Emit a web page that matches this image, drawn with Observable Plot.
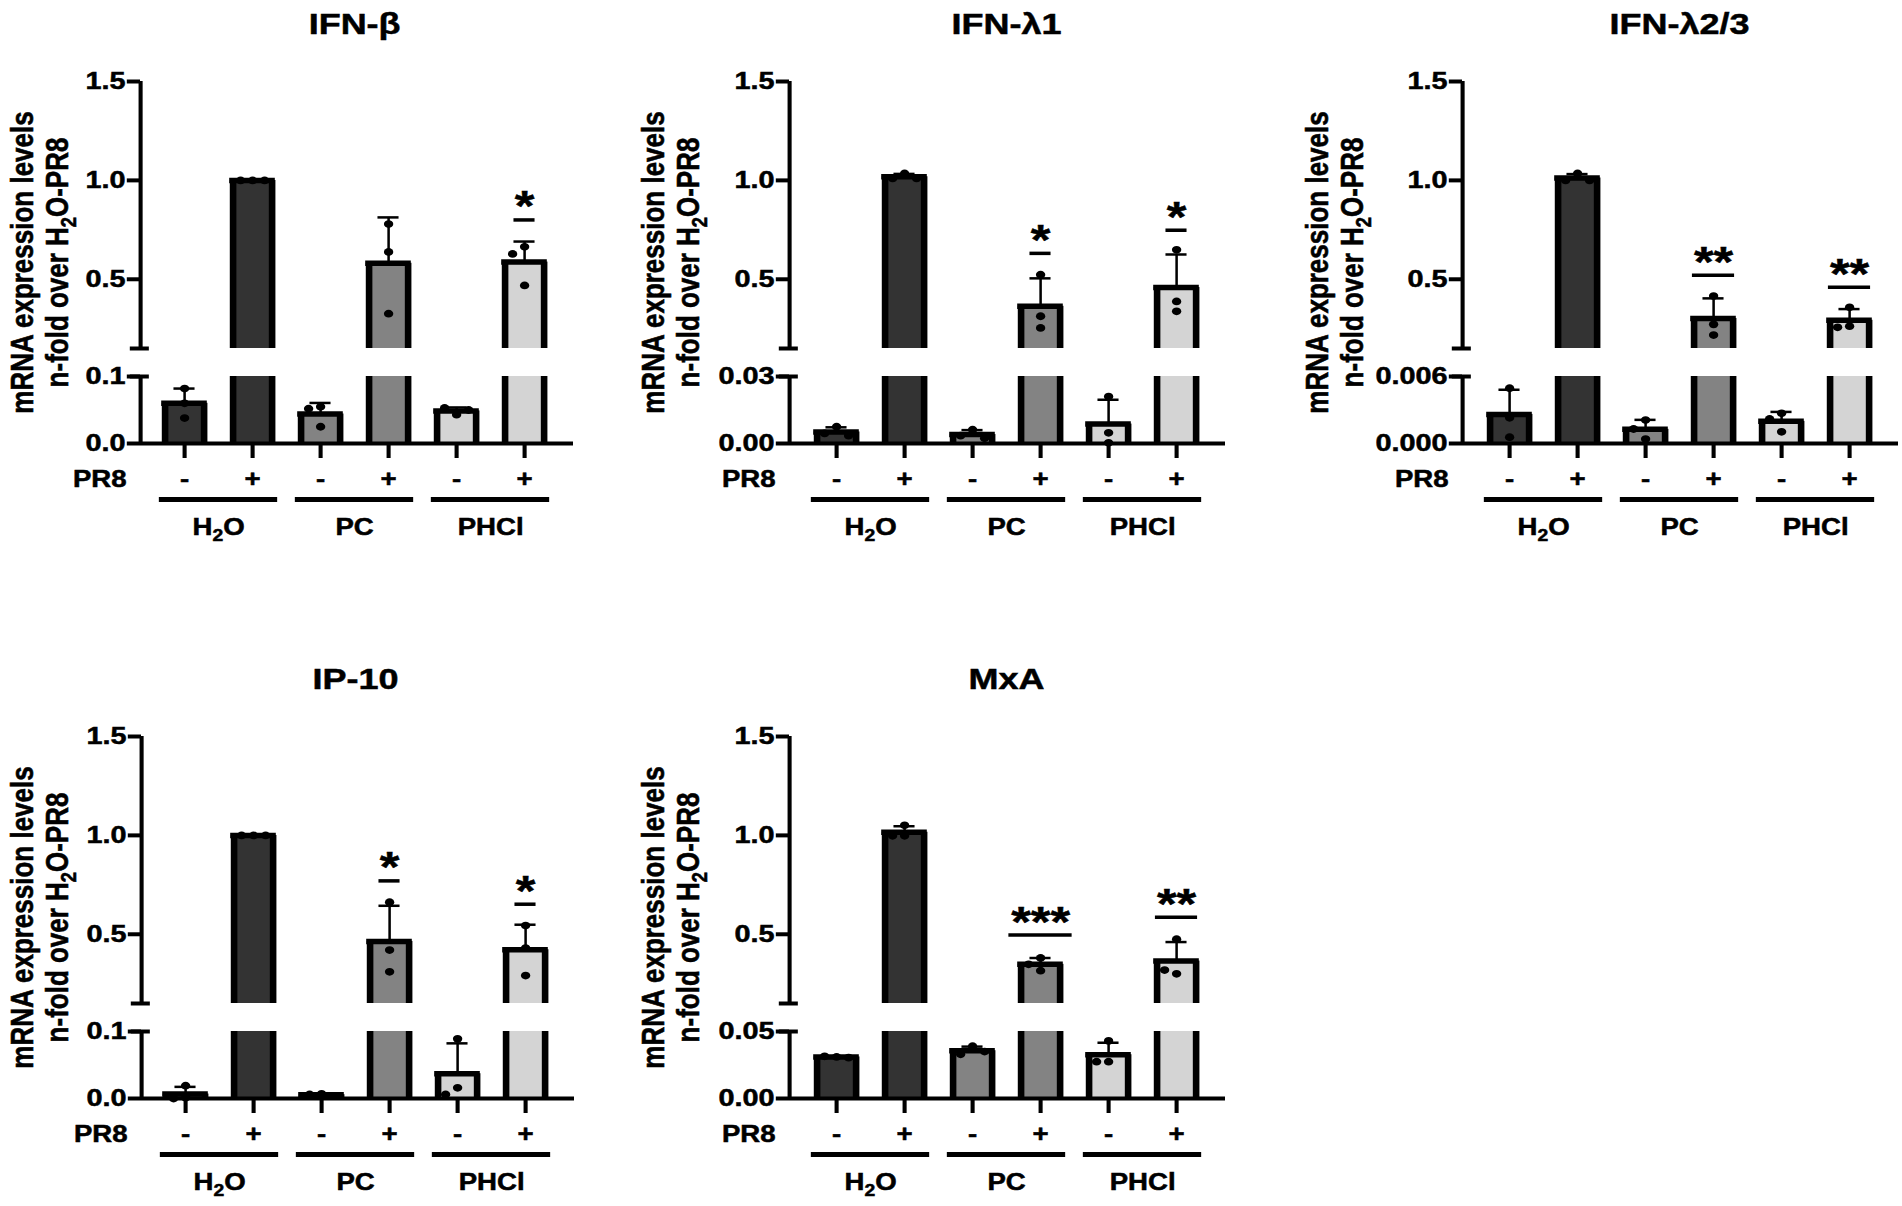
<!DOCTYPE html>
<html><head><meta charset="utf-8">
<script src="https://cdn.jsdelivr.net/npm/d3@7"></script>
<script src="https://cdn.jsdelivr.net/npm/@observablehq/plot@0.6"></script>
<style>
html,body{margin:0;padding:0;background:#fff;}
#root{position:relative;width:1902px;height:1206px;background:#fff;overflow:hidden;}
.panel{position:absolute;}
.panel svg{display:block;}
.panel svg text{stroke:#000;stroke-width:0.5px;}
</style></head><body><div id="root"></div>
<script>
// ---------------- data ----------------
const panelTitles = ["IFN-β", "IFN-λ1", "IFN-λ2/3", "IP-10", "MxA"];
const groups = ["H₂O", "PC", "PHCl"];
const pr8Labels = ["-", "+"];
const groupColors = ["#333333", "#838383", "#d4d4d4"];
const yTitle = "mRNA expression levels\nn-fold over H₂O-PR8";
const lowerMax = [0.1, 0.03, 0.006, 0.1, 0.05];
const lowerTickLabels = [["0.0", "0.1"], ["0.00", "0.03"], ["0.000", "0.006"], ["0.0", "0.1"], ["0.00", "0.05"]];
const upperTicks = [0.5, 1.0, 1.5];
const upperTickLabels = ["0.5", "1.0", "1.5"];
const breakStart = 0.15;

// replicates, per bar: H2O-, H2O+, PC-, PC+, PHCl-, PHCl+
const ifnB = [[0.082, 0.060, 0.038], [1.0, 1.0, 1.0], [0.055, 0.052, 0.025], [0.779, 0.638, 0.326], [0.043, 0.053, 0.050], [0.664, 0.628, 0.469]];
const ifnL1 = [[0.0075, 0.0045, 0.0035], [1.035, 1.01, 1.01], [0.0062, 0.0035, 0.0023], [0.523, 0.313, 0.254], [0.021, 0.0048, 0.0003], [0.649, 0.388, 0.338]];
const ifnL23 = [[0.00495, 0.0023, 0.00057], [1.035, 1.0, 1.0], [0.0021, 0.0013, 0.0004], [0.415, 0.272, 0.218], [0.0027, 0.0022, 0.00105], [0.358, 0.263, 0.257]];
const ip10 = [[0.019, 0.001, 0.0], [1.0, 1.0, 1.0], [0.007, 0.006, 0.004], [0.662, 0.42, 0.31], [0.089, 0.016, 0.006], [0.544, 0.43, 0.291]];
const mxa = [[0.031, 0.0315, 0.0305], [1.051, 0.998, 0.998], [0.039, 0.033, 0.035], [0.38, 0.316, 0.348], [0.043, 0.0275, 0.0275], [0.475, 0.30, 0.319]];
const replicates = [ifnB, ifnL1, ifnL23, ip10, mxa];

// significance: bar index, stars, value of the line
const sigB = [{bar: 5, stars: "*", at: 0.80}];
const sigL1 = [{bar: 3, stars: "*", at: 0.631}, {bar: 5, stars: "*", at: 0.748}];
const sigL23 = [{bar: 3, stars: "**", at: 0.52}, {bar: 5, stars: "**", at: 0.46}];
const sigIP = [{bar: 3, stars: "*", at: 0.77}, {bar: 5, stars: "*", at: 0.652}];
const sigMx = [{bar: 3, stars: "***", at: 0.496}, {bar: 5, stars: "**", at: 0.586}];
const significance = [sigB, sigL1, sigL23, sigIP, sigMx];

// ---------------- layout ----------------
const SX = 1.2;             // horizontal stretch of the original figure
const FONT = "'Liberation Sans', Arial, Helvetica, sans-serif";
const W = 634, H = 551;
const STEP = 68;            // px between bar centres
const yTop = 81, yBreak = 348, yLow = 376, yZero = 443;
const layout = [
  {left: 0,    top: 0,   axis: 140, bar0: 184, ytitle: 39},
  {left: 634,  top: 0,   axis: 155, bar0: 202, ytitle: 36},
  {left: 1268, top: 0,   axis: 194, bar0: 241, ytitle: 66},
  {left: 0,    top: 655, axis: 141, bar0: 185, ytitle: 39},
  {left: 634,  top: 655, axis: 155, bar0: 202, ytitle: 36}
];

function subscriptify(svg) {
  const walker = document.createTreeWalker(svg, NodeFilter.SHOW_TEXT);
  const nodes = [];
  while (walker.nextNode()) if (walker.currentNode.nodeValue.includes("₂")) nodes.push(walker.currentNode);
  const NS = "http://www.w3.org/2000/svg";
  for (const node of nodes) {
    const parent = node.parentNode;
    const fs = parseFloat(getComputedStyle(parent).fontSize) || 22;
    const parts = node.nodeValue.split("₂");
    const frag = document.createDocumentFragment();
    frag.appendChild(document.createTextNode(parts[0]));
    for (let j = 1; j < parts.length; j++) {
      const sub = document.createElementNS(NS, "tspan");
      sub.setAttribute("font-size", (fs * 0.7).toFixed(1));
      sub.setAttribute("dy", (fs * 0.25).toFixed(1));
      sub.textContent = "2";
      frag.appendChild(sub);
      const rest = document.createElementNS(NS, "tspan");
      rest.setAttribute("dy", (-fs * 0.25).toFixed(1));
      rest.textContent = parts[j];
      frag.appendChild(rest);
    }
    parent.replaceChild(frag, node);
  }
}

function makePanel(k) {
  const L = lowerMax[k], lay = layout[k];
  const endPx = lay.bar0 + 5 * STEP + 49;
  const xDomain = [(lay.axis - lay.bar0) / STEP, (endPx - lay.bar0) / STEP];
  const yDomain = [0, L, breakStart, 1.5];
  const yRange = [yZero, yLow, yBreak, yTop];
  const ypx = d3.scaleLinear(yDomain, yRange);

  const bars = replicates[k].map((vals, i) => ({
    i, g: Math.floor(i / 2), vals,
    mean: d3.mean(vals), sd: d3.deviation(vals)
  }));
  const HW = 0.287;
  const segs = [];
  for (const b of bars) {
    segs.push({i: b.i, g: b.g, y1: 0, y2: Math.min(b.mean, L), top: b.mean <= L});
    if (b.mean > breakStart) segs.push({i: b.i, g: b.g, y1: breakStart, y2: b.mean, top: true});
  }
  const sides = segs.flatMap(s => [{x: s.i - HW, y1: s.y1, y2: s.y2}, {x: s.i + HW, y1: s.y1, y2: s.y2}]);
  const tops = segs.filter(s => s.top);

  // scatter points spread sideways where they overlap
  const R = 3.9;
  const dots = [];
  for (const b of bars) {
    const placed = [];
    for (const v of b.vals) {
      const py = ypx(v);
      let off = 0;
      for (const c of [0, -1, 1, -2, 2]) {
        const ox = c * 12;
        if (placed.every(p => Math.hypot(p.ox - ox, p.py - py) >= 2 * R + 1.5)) { off = ox; break; }
      }
      placed.push({ox: off, py});
      dots.push({x: b.i + off / STEP, y: v});
    }
  }

  const tickVals = [0, L, ...upperTicks];
  const tickText = new Map([[0, lowerTickLabels[k][0]], [L, lowerTickLabels[k][1]],
    ...upperTicks.map((t, j) => [t, upperTickLabels[j]])]);
  const groupIdx = d3.range(groups.length);

  const svg = Plot.plot({
    width: W / SX, height: H,
    marginLeft: lay.axis / SX, marginRight: (W - endPx) / SX,
    marginTop: yTop, marginBottom: H - yZero,
    x: {type: "linear", domain: xDomain, label: null},
    y: {type: "linear", domain: yDomain, range: yRange, label: null},
    color: {type: "identity"},
    style: {fontFamily: FONT, fontSize: "24px", fontWeight: "bold", background: "white", overflow: "visible", color: "black"},
    marks: [
      Plot.rect(segs, {x1: d => d.i - HW, x2: d => d.i + HW, y1: "y1", y2: "y2", fill: d => groupColors[d.g]}),
      Plot.ruleX(bars, {x: "i", y1: "mean", y2: d => d.mean + d.sd, stroke: "black", strokeWidth: 2.1}),
      Plot.ruleY(bars, {y: d => d.mean + d.sd, x1: d => d.i - 0.155, x2: d => d.i + 0.155, stroke: "black", strokeWidth: 2.5}),
      Plot.ruleX(sides, {x: "x", y1: "y1", y2: "y2", stroke: "black", strokeWidth: 5.5}),
      Plot.ruleY(tops, {y: "y2", x1: d => d.i - HW, x2: d => d.i + HW, stroke: "black", strokeWidth: 5.5, strokeLinecap: "square"}),
      // broken y axis
      Plot.ruleX([{y1: 0, y2: L}, {y1: breakStart, y2: 1.5}], {x: () => xDomain[0], y1: "y1", y2: "y2", stroke: "black", strokeWidth: 3.4}),
      Plot.ruleY([breakStart, L], {y: d => d, x1: () => xDomain[0] - 0.15, x2: () => xDomain[0] + 0.13, stroke: "black", strokeWidth: 4}),
      Plot.ruleY([0], {stroke: "black", strokeWidth: 4}),
      Plot.axisY({ticks: tickVals, tickFormat: d => tickText.get(d), tickSize: 11, tickPadding: 1.5, strokeWidth: 4, fontSize: 24, fontWeight: "bold", label: null}),
      Plot.axisX({ticks: d3.range(6), tickFormat: i => pr8Labels[i % 2], tickSize: 15, tickPadding: 12, strokeWidth: 3.4, fontSize: 23, fontWeight: "bold", label: null}),
      Plot.text(["PR8"], {frameAnchor: "bottom-left", dx: -14 / SX, dy: 36, textAnchor: "end", lineAnchor: "middle", fontSize: 23, fontWeight: "bold"}),
      Plot.ruleY(groupIdx, {y: () => 0, x1: g => 2 * g + 0.5 - 0.87, x2: g => 2 * g + 0.5 + 0.87, dy: 56, stroke: "black", strokeWidth: 5}),
      Plot.text(groupIdx, {x: g => 2 * g + 0.5, y: () => 0, dy: 84, text: g => groups[g], lineAnchor: "middle", fontSize: 23, fontWeight: "bold"}),
      Plot.text([panelTitles[k]], {x: () => 2.5, y: () => 1.5, dy: 24 - yTop, lineAnchor: "middle", fontSize: 30, fontWeight: "bold"}),
      Plot.text([yTitle], {frameAnchor: "left", textAnchor: "middle", dx: (lay.ytitle - lay.axis) / SX, rotate: -90, lineAnchor: "middle", lineHeight: 1.12, fontSize: 26, fontWeight: "bold"}),
      // significance
      Plot.ruleY(significance[k], {y: "at", x1: d => d.bar - d.stars.length * 0.155, x2: d => d.bar + d.stars.length * 0.155, stroke: "black", strokeWidth: 3.5}),
      Plot.text(significance[k], {x: "bar", y: "at", text: "stars", dy: -13, lineAnchor: "middle", fontSize: 42, fontWeight: "bold"}),
      Plot.dot(dots, {x: "x", y: "y", r: R, fill: "black", stroke: null})
    ]
  });
  svg.setAttribute("width", W);
  svg.setAttribute("height", H);
  svg.setAttribute("preserveAspectRatio", "none");
  svg.style.width = W + "px";
  svg.style.height = H + "px";
  svg.style.maxWidth = "none";
  const div = document.createElement("div");
  div.className = "panel";
  div.style.left = lay.left + "px";
  div.style.top = lay.top + "px";
  div.appendChild(svg);
  document.getElementById("root").appendChild(div);
  subscriptify(svg);
}
for (let k = 0; k < panelTitles.length; k++) makePanel(k);
</script></body></html>
